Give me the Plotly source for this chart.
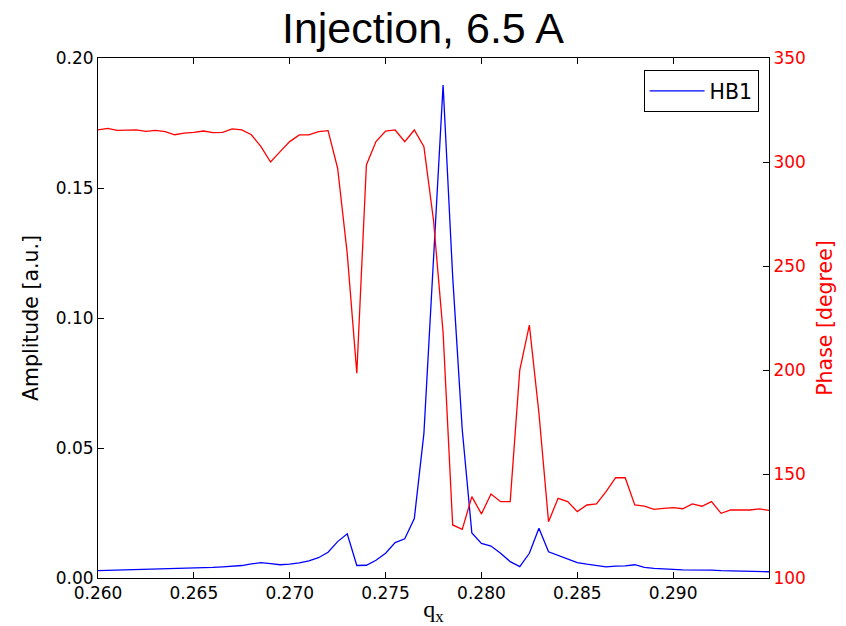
import plotly.graph_objects as go

qx = [0.2600, 0.2605, 0.2610, 0.2615, 0.2620, 0.2625, 0.2630, 0.2635, 0.2640, 0.2645,
      0.2650, 0.2655, 0.2660, 0.2665, 0.2670, 0.2675, 0.2680, 0.2685, 0.2690, 0.2695,
      0.2700, 0.2705, 0.2710, 0.2715, 0.2720, 0.2725, 0.2730, 0.2735, 0.2740, 0.2745,
      0.2750, 0.2755, 0.2760, 0.2765, 0.2770, 0.2775, 0.2780, 0.2785, 0.2790, 0.2795,
      0.2800, 0.2805, 0.2810, 0.2815, 0.2820, 0.2825, 0.2830, 0.2835, 0.2840, 0.2845,
      0.2850, 0.2855, 0.2860, 0.2865, 0.2870, 0.2875, 0.2880, 0.2885, 0.2890, 0.2895,
      0.2900, 0.2905, 0.2910, 0.2915, 0.2920, 0.2925, 0.2930, 0.2935, 0.2940, 0.2945,
      0.2950]

amplitude = [0.0028, 0.0029, 0.0030, 0.0030, 0.0031, 0.0032, 0.0033, 0.0034, 0.0035, 0.0036,
             0.0037, 0.0039, 0.0041, 0.0043, 0.0045, 0.0048, 0.0054, 0.0059, 0.0055, 0.0051,
             0.0053, 0.0058, 0.0066, 0.0078, 0.0099, 0.0140, 0.0170, 0.0048, 0.0049, 0.0068,
             0.0095, 0.0136, 0.0151, 0.0229, 0.0556, 0.1220, 0.1896, 0.1160, 0.0570, 0.0173,
             0.0133, 0.0123, 0.0095, 0.0063, 0.0044, 0.0095, 0.0191, 0.0101, 0.0088, 0.0073,
             0.0059, 0.0053, 0.0047, 0.0043, 0.0046, 0.0047, 0.0051, 0.0041, 0.0037, 0.0036,
             0.0033, 0.0031, 0.0031, 0.0032, 0.0030, 0.0028, 0.0027, 0.0026, 0.0025, 0.0025,
             0.0024]

phase = [315.4, 316.2, 315.2, 315.2, 315.4, 314.7, 315.2, 314.6, 313.1, 313.9,
         314.2, 314.9, 314.1, 314.2, 315.9, 315.4, 313.1, 307.4, 300.0, 305.0,
         309.8, 313.0, 313.0, 314.6, 315.1, 297.0, 256.0, 198.5, 298.6, 309.8,
         314.9, 315.4, 309.8, 315.4, 307.4, 272.0, 218.0, 125.5, 123.4, 139.1,
         130.8, 140.4, 136.7, 136.7, 200.0, 221.6, 179.2, 127.1, 138.3, 136.7,
         131.9, 135.1, 135.6, 141.5, 148.2, 148.2, 135.1, 134.6, 133.0, 133.5,
         133.8, 133.3, 135.6, 134.5, 136.7, 131.1, 132.7, 132.8, 132.7, 133.2,
         132.5]

amp_ticks = [0.00, 0.05, 0.10, 0.15, 0.20]
phase_ticks = [100, 150, 200, 250, 300, 350]
qx_ticks = [0.260, 0.265, 0.270, 0.275, 0.280, 0.285, 0.290]

fig = go.Figure()
fig.add_trace(go.Scatter(x=qx, y=amplitude, mode="lines", name="HB1",
                         line=dict(color="#0000ff", width=1.3), yaxis="y"))
fig.add_trace(go.Scatter(x=qx, y=phase, mode="lines", name="Phase", showlegend=False,
                         line=dict(color="#ff0000", width=1.3), yaxis="y2"))

tickfont = dict(family="DejaVu Sans", size=17, color="black")

fig.update_layout(
    width=846, height=626,
    margin=dict(l=98, r=77, t=58, b=48),
    paper_bgcolor="white", plot_bgcolor="white",
    title=dict(text="Injection, 6.5 A", x=0.5, xanchor="center",
               y=1 - 28 / 626, yanchor="middle", yref="container",
               font=dict(family="Liberation Sans", size=43, color="black")),
    showlegend=True,
    legend=dict(x=0.9845, xanchor="right", y=0.977, yanchor="top",
                bordercolor="black", borderwidth=1, bgcolor="white",
                itemwidth=55, tracegroupgap=0,
                font=dict(family="DejaVu Sans", size=20.5, color="black")),
    xaxis=dict(range=[0.260, 0.295], tickvals=qx_ticks,
               ticktext=[f"{v:.3f}" for v in qx_ticks],
               ticks="inside", ticklen=6, tickcolor="black",
               showline=True, linecolor="black", linewidth=1, mirror="ticks",
               showgrid=False, zeroline=False, tickfont=tickfont, automargin=False,
               title=dict(text="q<sub>x</sub>", standoff=4,
                          font=dict(family="Liberation Serif", size=24, color="black"))),
    yaxis=dict(range=[0, 0.20], tickvals=amp_ticks,
               ticktext=[f"{v:.2f}" for v in amp_ticks],
               ticks="inside", ticklen=6, tickcolor="black",
               showline=True, linecolor="black", linewidth=1,
               showgrid=False, zeroline=False, tickfont=tickfont, automargin=False,
               title=dict(text="Amplitude [a.u.]", standoff=11,
                          font=dict(family="DejaVu Sans", size=20.5, color="black"))),
    yaxis2=dict(range=[100, 350], tickvals=phase_ticks,
                ticks="inside", ticklen=6, tickcolor="black",
                overlaying="y", side="right",
                showline=True, linecolor="black", linewidth=1,
                showgrid=False, zeroline=False, automargin=False,
                tickfont=dict(family="DejaVu Sans", size=17, color="#ff0000"),
                title=dict(text="Phase [degree]", standoff=12,
                           font=dict(family="DejaVu Sans", size=20.5, color="#ff0000"))),
)

fig.write_html("out.html")
